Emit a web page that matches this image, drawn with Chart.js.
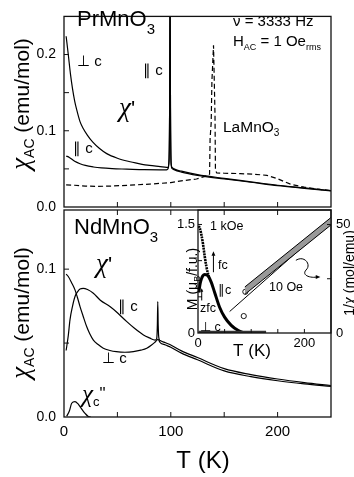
<!DOCTYPE html>
<html>
<head>
<meta charset="utf-8">
<script src="https://cdn.jsdelivr.net/npm/chart.js@4.4.0/dist/chart.umd.min.js"></script>
<style>
  html, body { margin: 0; padding: 0; background: #fff; }
  #wrap { position: relative; width: 354px; height: 477px; background: #fff; }
  #wrap canvas { position: absolute; left: 0; top: 0; }
</style>
</head>
<body>
<div id="wrap">
  <canvas id="top" width="354" height="477"></canvas>
  <canvas id="bottom" width="354" height="477"></canvas>
  <canvas id="inset" width="354" height="477"></canvas>
</div>
<script>
'use strict';

const FF = '"Liberation Sans", Arial, Helvetica, sans-serif';
const GF = '"Liberation Serif", "Times New Roman", serif';

// ---- top panel: PrMnO3 (perp / par c) and LaMnO3 (dashed)
const prPerpT = [2, 4, 6, 8, 10, 12, 15, 18, 22, 27, 33, 40, 50, 60, 70, 80, 90, 96, 97.3, 98.3, 98.9, 99.3, 99.7, 100.3, 101.2, 103, 110, 125, 150, 175, 200, 225, 250];
const prPerpChi = [0.224, 0.2, 0.175, 0.155, 0.139, 0.127, 0.112, 0.103, 0.094, 0.085, 0.077, 0.070, 0.064, 0.060, 0.057, 0.0545, 0.053, 0.052, 0.052, 0.06, 0.13, 0.3, 0.13, 0.058, 0.052, 0.050, 0.047, 0.0425, 0.0375, 0.033, 0.0285, 0.025, 0.0215];

const prParT = [2, 5, 10, 15, 20, 27.5, 35, 45, 58.8, 75, 90, 96, 97.3, 98.3, 98.9, 99.3, 99.7, 100.3, 101.2, 103, 110, 125, 150, 175, 200, 225, 250];
const prParChi = [0.067, 0.065, 0.060, 0.0568, 0.0545, 0.0525, 0.0512, 0.0503, 0.0497, 0.049, 0.0488, 0.0488, 0.050, 0.06, 0.13, 0.3, 0.13, 0.056, 0.0505, 0.049, 0.0458, 0.0415, 0.0368, 0.0325, 0.028, 0.0245, 0.021];

const laT = [2, 10, 20, 30, 45, 60, 80, 100, 112, 124, 132, 136.3, 136.8, 137.8, 138.5, 140, 141.4, 141.8, 143, 150, 165, 178, 190, 200, 212, 225, 240, 250];
const laChi = [0.029, 0.0285, 0.0275, 0.027, 0.0275, 0.0285, 0.030, 0.032, 0.0347, 0.0367, 0.040, 0.043, 0.09, 0.11, 0.165, 0.212, 0.12, 0.048, 0.0447, 0.0443, 0.0438, 0.043, 0.0415, 0.037, 0.030, 0.026, 0.023, 0.0215];

// ---- bottom panel: NdMnO3
const ndParT = [2, 4, 5.6, 8, 10.3, 13, 15, 18, 22, 27.5, 34, 43, 50, 58.8, 66, 74.4, 80, 85.3, 86.8, 87.4, 87.8, 88.2, 88.8, 90, 95, 100, 110, 125, 150, 175, 200, 225, 250];
const ndParChi = [0.045, 0.055, 0.0657, 0.075, 0.0815, 0.085, 0.0865, 0.087, 0.0862, 0.0837, 0.079, 0.0747, 0.0705, 0.0645, 0.060, 0.0555, 0.0535, 0.052, 0.053, 0.062, 0.078, 0.062, 0.0535, 0.0517, 0.0502, 0.0487, 0.0447, 0.0402, 0.0327, 0.0287, 0.0257, 0.0233, 0.0213];

const ndPerpT = [2, 4, 7, 10.3, 12.5, 15, 18, 21.3, 24, 27.5, 32, 36.8, 43, 49, 57, 65, 72, 77.5, 82, 85, 87, 88, 90, 95, 100, 110, 125, 150, 175, 200, 225, 250];
const ndPerpChi = [0.0966, 0.095, 0.091, 0.086, 0.081, 0.0747, 0.068, 0.061, 0.0565, 0.052, 0.049, 0.0465, 0.045, 0.0442, 0.0438, 0.0442, 0.0452, 0.0465, 0.0487, 0.0505, 0.052, 0.0525, 0.0503, 0.0487, 0.0472, 0.0432, 0.0387, 0.0312, 0.0273, 0.0245, 0.0224, 0.0207];

const ndImT = [2.5, 5, 7.2, 10.3, 13, 15, 17.5, 19.7, 22.8, 25];
const ndImChi = [0.0005, 0.004, 0.0093, 0.0104, 0.009, 0.007, 0.0045, 0.0025, 0.0003, 0];

// ---- inset: M (left axis) and 1/chi (right axis)
const fcT = [1.5, 3.2, 6.3, 9.4, 12.6, 15.7, 18.8, 22];
const fcM = [1.48, 1.45, 1.36, 1.23, 1.06, 0.92, 0.82, 0.75];
const zfcT = [1.5, 4, 6.3, 9, 12.6, 18.8, 25, 31.3, 40.6, 50, 62.5, 75, 84, 88];
const zfcM = [0.56, 0.68, 0.745, 0.79, 0.81, 0.79, 0.70, 0.56, 0.356, 0.219, 0.105, 0.037, 0.008, 0.0];
const perpT = [1, 40, 80, 128];
const perpM = [0.012, 0.01, 0.01, 0.01];
const bandT = [88, 250];
const bandLow = [17.8, 49.8];
const bandHigh = [21.2, 53.2];
const fitT = [59.5, 250];
const fitInv = [9.9, 51.2];
const circT = [89, 86];
const circInv = [19, 7.8];

const xy = (ts, vs) => ts.map((t, i) => ({ x: t, y: vs[i] }));
const near = (v, list) => list.some(t => Math.abs(v - t) < 1e-9);

// text with sub/superscripts: parts = [text, size, dy, family]
function rich(ctx, x, y, parts, align, rotate) {
    ctx.save();
    ctx.translate(x, y);
    if (rotate) ctx.rotate(-Math.PI / 2);
    ctx.fillStyle = '#000';
    ctx.textBaseline = 'alphabetic';
    ctx.textAlign = 'left';
    const fnt = p => (p[3] === 'g' ? 'italic ' : '') + p[1] + 'px ' + (p[3] === 'g' ? GF : FF);
    let w = 0;
    parts.forEach(p => { ctx.font = fnt(p); w += ctx.measureText(p[0]).width; });
    let cx = align === 'center' ? -w / 2 : 0;
    parts.forEach(p => {
        ctx.font = fnt(p);
        ctx.fillText(p[0], cx, p[2] || 0);
        cx += ctx.measureText(p[0]).width;
    });
    ctx.restore();
}

// frame + inward tick marks
function frame(chart, sides) {
    const { ctx, chartArea: a } = chart;
    ctx.save();
    ctx.strokeStyle = '#111';
    ctx.lineWidth = 1.3;
    ctx.strokeRect(a.left, a.top, a.right - a.left, a.bottom - a.top);
    ctx.lineWidth = 1;
    sides.forEach(([id, side, len]) => {
        const s = chart.scales[id];
        s.ticks.forEach(t => {
            if (t.value <= s.min + 1e-9 || t.value >= s.max - 1e-9) return;
            const p = s.getPixelForValue(t.value);
            ctx.beginPath();
            if (side === 'bottom') { ctx.moveTo(p, a.bottom); ctx.lineTo(p, a.bottom - len); }
            if (side === 'top') { ctx.moveTo(p, a.top); ctx.lineTo(p, a.top + len); }
            if (side === 'left') { ctx.moveTo(a.left, p); ctx.lineTo(a.left + len, p); }
            if (side === 'right') { ctx.moveTo(a.right, p); ctx.lineTo(a.right - len, p); }
            ctx.stroke();
        });
    });
    ctx.restore();
}

function line(data, opts) {
    return Object.assign({
        data: data,
        borderColor: '#000',
        borderWidth: 1.2,
        pointRadius: 0,
        cubicInterpolationMode: 'monotone',
        fill: false
    }, opts || {});
}

function baseOptions(padding) {
    return {
        responsive: false,
        animation: false,
        devicePixelRatio: 1,
        layout: { padding: padding },
        plugins: { legend: { display: false }, tooltip: { enabled: false } },
        events: []
    };
}

function yAxis(min, max, step, labels, width) {
    return {
        type: 'linear', min: min, max: max,
        afterFit(s) { s.width = width; },
        grid: { display: false, drawTicks: false },
        border: { display: false },
        ticks: {
            stepSize: step, autoSkip: false, padding: 8, color: '#000',
            font: { family: FF, size: 14 },
            callback: v => near(v, labels) ? v.toFixed(1) : ''
        }
    };
}

// ---------- top chart
new Chart(document.getElementById('top'), {
    type: 'line',
    data: {
        datasets: [
            line(xy(prPerpT, prPerpChi)),
            line(xy(prParT, prParChi)),
            line(xy(laT, laChi), { borderDash: [5, 3], cubicInterpolationMode: 'default', tension: 0 })
        ]
    },
    options: Object.assign(baseOptions({ left: 0, right: 23, top: 1, bottom: 270 }), {
        scales: {
            x: {
                type: 'linear', min: 0, max: 250,
                afterFit(s) { s.height = 0; },
                grid: { display: false, drawTicks: false },
                border: { display: false },
                ticks: { stepSize: 50, display: false }
            },
            y: yAxis(0, 0.25, 0.05, [0, 0.1, 0.2], 64)
        }
    }),
    plugins: [{
        id: 'deco',
        afterDraw(chart) {
            frame(chart, [['x', 'bottom', 5], ['y', 'left', 5]]);
            const c = chart.ctx;
            rich(c, 29, 104, [['χ', 27, 0, 'g'], ['AC', 14, 5], [' (emu/mol)', 21]], 'center', true);
            rich(c, 77, 26, [['PrMnO', 22], ['3', 15, 8]]);
            rich(c, 233, 26, [['ν = 3333 Hz', 15]]);
            rich(c, 233, 46, [['H', 15], ['AC', 9, 4], [' = 1 Oe', 15], ['rms', 9, 4]]);
            rich(c, 77, 66, [['⊥ c', 15]]);
            rich(c, 143, 75, [['∥ c', 15]]);
            rich(c, 119, 116, [['χ', 27, 0, 'g'], ["'", 22]]);
            rich(c, 223, 132, [['LaMnO', 15.5], ['3', 10, 4]]);
            rich(c, 73, 153, [['∥ c', 15]]);
        }
    }]
});

// ---------- bottom chart
new Chart(document.getElementById('bottom'), {
    type: 'line',
    data: {
        datasets: [
            line(xy(ndParT, ndParChi)),
            line(xy(ndPerpT, ndPerpChi)),
            line(xy(ndImT, ndImChi))
        ]
    },
    options: Object.assign(baseOptions({ left: 0, right: 23, top: 210, bottom: 0 }), {
        scales: {
            x: {
                type: 'linear', min: 0, max: 250,
                afterFit(s) { s.height = 60; },
                grid: { display: false, drawTicks: false },
                border: { display: false },
                ticks: {
                    stepSize: 50, autoSkip: false, maxRotation: 0, padding: 6, color: '#000',
                    font: { family: FF, size: 15 },
                    callback: v => near(v, [0, 100, 200]) ? String(v) : ''
                }
            },
            y: yAxis(0, 0.14, 0.05, [0, 0.1], 64)
        }
    }),
    plugins: [{
        id: 'deco',
        afterDraw(chart) {
            frame(chart, [['x', 'bottom', 5], ['x', 'top', 5], ['y', 'left', 5]]);
            const c = chart.ctx;
            rich(c, 29, 313, [['χ', 27, 0, 'g'], ['AC', 14, 5], [' (emu/mol)', 21]], 'center', true);
            rich(c, 203, 468, [['T (K)', 24]], 'center');
            rich(c, 74, 234, [['NdMnO', 22], ['3', 15, 8]]);
            rich(c, 96, 272, [['χ', 27, 0, 'g'], ["'", 22]]);
            rich(c, 118, 311, [['∥ c', 15]]);
            rich(c, 102, 363, [['⊥ c', 15]]);
            rich(c, 82, 402, [['χ', 25, 0, 'g'], ['c', 13, 4], ['"', 17, -3]]);
        }
    }]
});

// ---------- inset
function arrowHead(ctx, x, y, ang, size) {
    ctx.beginPath();
    ctx.moveTo(x, y);
    ctx.lineTo(x - size * Math.cos(ang - 0.4), y - size * Math.sin(ang - 0.4));
    ctx.lineTo(x - size * Math.cos(ang + 0.4), y - size * Math.sin(ang + 0.4));
    ctx.closePath();
    ctx.fill();
}

new Chart(document.getElementById('inset'), {
    type: 'line',
    data: {
        datasets: [
            line(xy(bandT, bandLow), { yAxisID: 'y2', borderWidth: 1, cubicInterpolationMode: 'default' }),
            line(xy(bandT, bandHigh), { yAxisID: 'y2', borderWidth: 1, fill: '-1', backgroundColor: '#999', cubicInterpolationMode: 'default' }),
            line(xy(fitT, fitInv), { yAxisID: 'y2', borderWidth: 1, cubicInterpolationMode: 'default' }),
            line(xy(circT, circInv), { yAxisID: 'y2', showLine: false, pointRadius: 2.6, pointBackgroundColor: '#fff', pointBorderColor: '#000', pointBorderWidth: 0.9 }),
            line(xy(perpT, perpM), { yAxisID: 'y', borderWidth: 3, borderColor: '#333' }),
            line(xy(zfcT, zfcM), { yAxisID: 'y', borderWidth: 3 }),
            line(xy(fcT, fcM), { yAxisID: 'y', borderWidth: 2.6, borderDash: [2, 0.8] })
        ]
    },
    options: Object.assign(baseOptions({ left: 0, right: 0, top: 210, bottom: 0 }), {
        scales: {
            x: {
                type: 'linear', min: 0, max: 250,
                afterFit(s) { s.height = 144; },
                grid: { display: false, drawTicks: false },
                border: { display: false },
                ticks: {
                    stepSize: 50, autoSkip: false, maxRotation: 0, padding: 3, color: '#000',
                    font: { family: FF, size: 13 },
                    callback: v => near(v, [0, 200]) ? String(v) : ''
                }
            },
            y: {
                type: 'linear', position: 'left', min: 0, max: 1.7,
                afterFit(s) { s.width = 198; },
                grid: { display: false, drawTicks: false },
                border: { display: false },
                ticks: {
                    stepSize: 0.5, autoSkip: false, padding: 3, color: '#000',
                    font: { family: FF, size: 13 },
                    callback: v => near(v, [0, 1.5]) ? (v === 0 ? '0' : '1.5') : ''
                }
            },
            y2: {
                type: 'linear', position: 'right', min: 0, max: 1.7 * 50 / 1.5,
                afterFit(s) { s.width = 23; },
                grid: { display: false, drawTicks: false },
                border: { display: false },
                ticks: {
                    stepSize: 25, autoSkip: false, padding: 5, color: '#000',
                    font: { family: FF, size: 13 },
                    callback: v => near(v, [0, 50]) ? String(v) : ''
                }
            }
        }
    }),
    plugins: [{
        id: 'deco',
        afterDraw(chart) {
            frame(chart, [['x', 'bottom', 4], ['y', 'left', 4], ['y2', 'right', 4]]);
            const c = chart.ctx;
            const sx = chart.scales.x, sy = chart.scales.y, s2 = chart.scales.y2;
            rich(c, 252, 356, [['T (K)', 17]], 'center');
            rich(c, 196.5, 279, [['M (μ', 14], ['B', 9, 3], ['/f.u.)', 14]], 'center', true);
            rich(c, 353.5, 273, [['1/', 14], ['χ', 16, 0, 'g'], [' (mol/emu)', 14]], 'center', true);
            rich(c, 210, 230, [['1 kOe', 12.5]]);
            rich(c, 218, 269, [['fc', 12.5]]);
            rich(c, 218, 294, [['∥c', 12.5]]);
            rich(c, 200, 312, [['zfc', 12.5]]);
            rich(c, 200, 331, [['⊥ c', 12.5]]);
            rich(c, 269, 291, [['10 Oe', 12.5]]);

            c.save();
            c.strokeStyle = '#000';
            c.fillStyle = '#000';
            c.lineWidth = 1;
            // fc arrow (up)
            const ax = sx.getPixelForValue(29), ay0 = sy.getPixelForValue(0.84), ay1 = sy.getPixelForValue(1.13);
            c.beginPath(); c.moveTo(ax, ay0); c.lineTo(ax, ay1 + 4); c.stroke();
            arrowHead(c, ax, ay1, -Math.PI / 2, 5);
            // zfc arrow (up)
            const bx = sx.getPixelForValue(7), by0 = sy.getPixelForValue(0.45), by1 = sy.getPixelForValue(0.62);
            c.beginPath(); c.moveTo(bx, by0); c.lineTo(bx, by1 + 3); c.stroke();
            arrowHead(c, bx, by1, -Math.PI / 2, 4);
            // wavy arrow towards right axis
            const P = (t, v) => [sx.getPixelForValue(t), s2.getPixelForValue(v)];
            const p0 = P(184, 33.5), c1 = P(200, 36), c2 = P(214, 31.5), p1 = P(203, 29);
            const c3 = P(194, 26.5), c4 = P(212, 25.2), p2 = P(230, 25.8);
            c.beginPath();
            c.moveTo(p0[0], p0[1]);
            c.bezierCurveTo(c1[0], c1[1], c2[0], c2[1], p1[0], p1[1]);
            c.bezierCurveTo(c3[0], c3[1], c4[0], c4[1], p2[0] - 3, p2[1]);
            c.stroke();
            arrowHead(c, p2[0], p2[1], 0, 5);
            c.restore();
        }
    }]
});
</script>
</body>
</html>
